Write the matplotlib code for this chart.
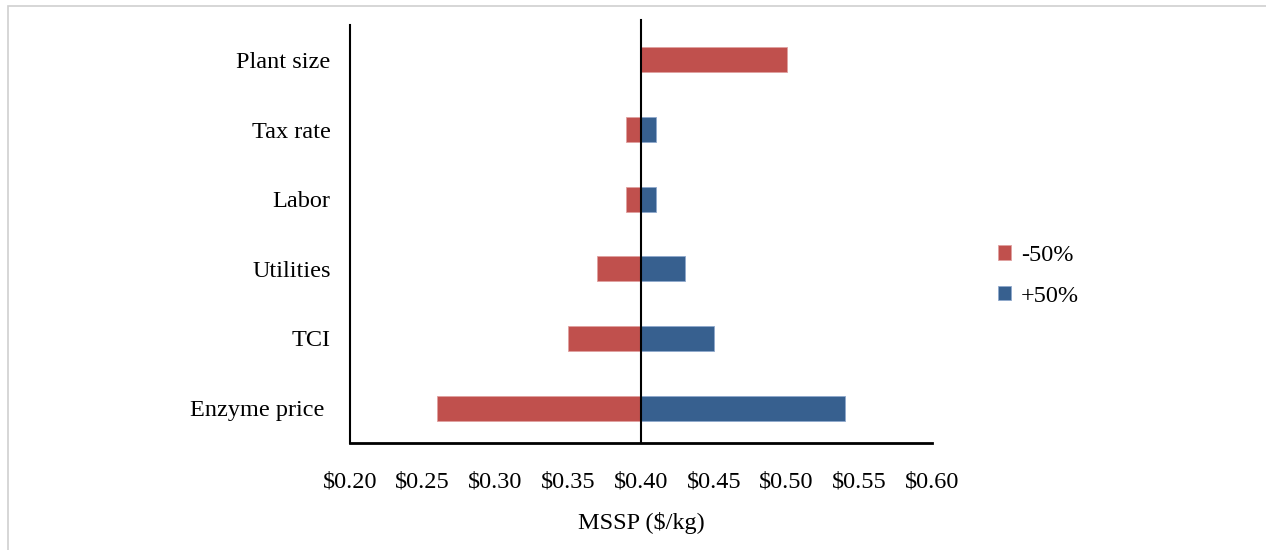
import matplotlib
matplotlib.use("Agg")
import matplotlib.pyplot as plt
from matplotlib.patches import Rectangle

categories = ["Enzyme price ", "TCI", "Utilities", "Labor", "Tax rate", "Plant size"]
base_value = 0.40
minus50 = [0.26, 0.35, 0.37, 0.39, 0.39, 0.50]
plus50 = [0.54, 0.45, 0.43, 0.41, 0.41, 0.40]
xticks = [0.20, 0.25, 0.30, 0.35, 0.40, 0.45, 0.50, 0.55, 0.60]
xtick_labels = ["$0.20", "$0.25", "$0.30", "$0.35", "$0.40", "$0.45", "$0.50", "$0.55", "$0.60"]
series_names = ["-50%", "+50%"]

plt.rcParams['font.family'] = ['Liberation Serif', 'DejaVu Serif']

fig = plt.figure(figsize=(12.66, 5.5), dpi=100)
fig.patches.append(Rectangle((8/1266, -0.1), 1.5, 1 - 6/550 + 0.1, transform=fig.transFigure,
                             fill=False, edgecolor="#cfcfcf", linewidth=1.2))
ax = fig.add_axes([350/1266, 1 - 443/550, 582/1266, 418/550])

red = "#C0504D"
blue = "#37608F"
y = list(range(len(categories)))
h = 0.36
ax.barh(y, [v - base_value for v in minus50], left=base_value, height=h, color=red,
        edgecolor="#e0a0a0", linewidth=0.6, label=series_names[0])
ax.barh(y, [v - base_value for v in plus50], left=base_value, height=h, color=blue,
        edgecolor="#8fa8cc", linewidth=0.6, label=series_names[1])
ax.axvline(base_value, ymin=0, ymax=1.012, color="black", linewidth=1.5, clip_on=False)

ax.set_xlim(0.20, 0.60)
ax.set_ylim(-0.5, 5.5)
ax.set_xticks(xticks)
ax.set_xticklabels(xtick_labels)
ax.set_yticks(y)
ax.set_yticklabels(categories)
ax.tick_params(axis='x', length=0, pad=20.5, labelsize=17.5)
ax.tick_params(axis='y', length=0, pad=14, labelsize=17.5)
for s in ["top", "right"]:
    ax.spines[s].set_visible(False)
ax.spines["left"].set_linewidth(1.5)
ax.spines["bottom"].set_linewidth(2.0)
ax.set_xlabel("MSSP ($/kg)", fontsize=17.5, labelpad=14)

ax.legend(loc="center left", bbox_to_anchor=(976/1266, 1 - 276/550), bbox_transform=fig.transFigure,
          frameon=False, fontsize=17.5, handlelength=0.55, handleheight=0.55, handletextpad=0.4,
          labelspacing=0.8)

fig.savefig("out.png", dpi=100)
